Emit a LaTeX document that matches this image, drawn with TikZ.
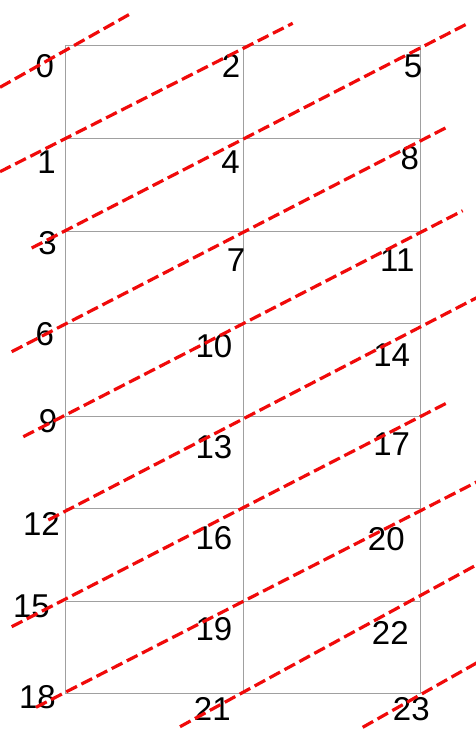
\documentclass[tikz,border=0pt]{standalone}
\usepackage{fontspec}
\setmainfont{Liberation Sans}
\definecolor{gridgray}{RGB}{160,160,160}
\definecolor{diagred}{RGB}{240,10,10}
\begin{document}
\begin{tikzpicture}[x=1pt,y=-1pt,
  gridline/.style={draw=gridgray, line width=1pt},
  diagline/.style={draw=diagred, line width=3.2pt, dash pattern=on 12pt off 5pt},
  num/.style={font=\fontsize{33}{40}\selectfont, inner sep=0pt, text=black}]
\useasboundingbox (0,0) rectangle (476,739);
% grid points
\foreach \c/\x in {0/65.3,1/243.3,2/420.3}{
  \foreach \r/\y in {0/45.7,1/138.3,2/231,3/323.4,4/416,5/508.3,6/601,7/693.2}{
    \coordinate (g-\c-\r) at (\x,\y);
  }
}
% grid
\draw[gridline] (g-0-0) rectangle (g-2-7);
\draw[gridline] (g-1-0) -- (g-1-7);
\foreach \r in {1,...,6}{ \draw[gridline] (g-0-\r) -- (g-2-\r); }
% labels
\node[num] (n0) at (44.7,66) {0};
\node[num] (n1) at (46.5,162.3) {1};
\node[num] (n2) at (231,66) {2};
\node[num] (n3) at (47.5,243.5) {3};
\node[num] (n4) at (230.5,162) {4};
\node[num] (n5) at (413,66) {5};
\node[num] (n6) at (44.7,334) {6};
\node[num] (n7) at (236,260) {7};
\node[num] (n8) at (409.7,158) {8};
\node[num] (n9) at (48,421) {9};
\node[num] (n10) at (214,346) {10};
\node[num] (n11) at (397.3,259.7) {11};
\node[num] (n12) at (41.5,524.3) {12};
\node[num] (n13) at (214,446.7) {13};
\node[num] (n14) at (391.7,354.7) {14};
\node[num] (n15) at (31.5,606.3) {15};
\node[num] (n16) at (214,538) {16};
\node[num] (n17) at (391.7,444.3) {17};
\node[num] (n18) at (37.5,697) {18};
\node[num] (n19) at (214,629.3) {19};
\node[num] (n20) at (386.3,539) {20};
\node[num] (n21) at (212.3,709.3) {21};
\node[num] (n22) at (390.3,633) {22};
\node[num] (n23) at (411.3,709) {23};
% diagonal line end points
\coordinate (d0a) at (0,87.3);    \coordinate (d0b) at (130,14);
\coordinate (d1a) at (0,171.7);   \coordinate (d1b) at (292.7,23.3);
\coordinate (d2a) at (31.7,248);  \coordinate (d2b) at (469.3,22.7);
\coordinate (d3a) at (11.7,351.7);\coordinate (d3b) at (449.3,126);
\coordinate (d4a) at (23.3,436.7);\coordinate (d4b) at (462.7,210.7);
\coordinate (d5a) at (48.3,520);  \coordinate (d5b) at (480,296);
\coordinate (d6a) at (11.7,626.7);\coordinate (d6b) at (449.3,401.7);
\coordinate (d7a) at (36,707.3);  \coordinate (d7b) at (480,480.3);
\coordinate (d8a) at (180,726.7); \coordinate (d8b) at (480,563);
\coordinate (d9a) at (362.7,727.3);\coordinate (d9b) at (480,661);
\begin{scope}
\clip (0,0) rectangle (476,739);
\foreach \k in {0,...,9}{ \draw[diagline] (d\k a) -- (d\k b); }
\end{scope}
\end{tikzpicture}
\end{document}
